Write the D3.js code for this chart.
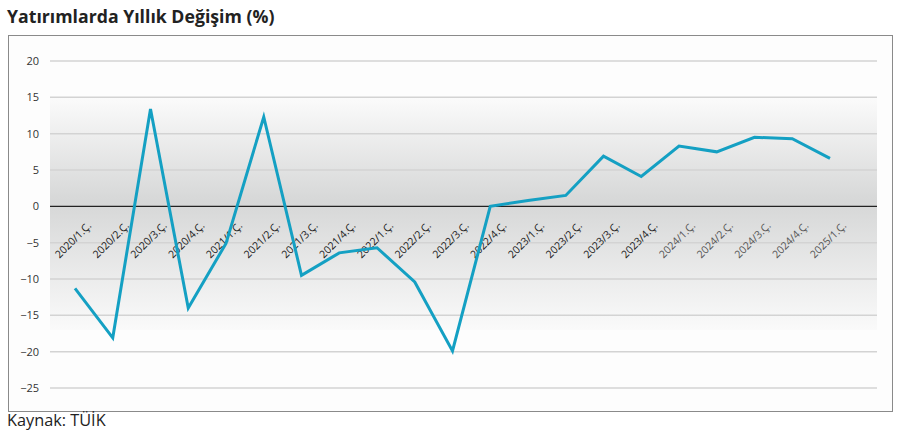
<!DOCTYPE html>
<html><head><meta charset="utf-8">
<script src="https://cdn.jsdelivr.net/npm/d3@7"></script>
<style>body{margin:0;background:#fff}svg{display:block}</style>
</head><body>
<svg id="c" width="901" height="436"></svg>
<script>
const categories = ["2020/1.Ç.","2020/2.Ç.","2020/3.Ç.","2020/4.Ç.","2021/1.Ç.","2021/2.Ç.","2021/3.Ç.","2021/4.Ç.","2022/1.Ç.","2022/2.Ç.","2022/3.Ç.","2022/4.Ç.","2023/1.Ç.","2023/2.Ç.","2023/3.Ç.","2023/4.Ç.","2024/1.Ç.","2024/2.Ç.","2024/3.Ç.","2024/4.Ç.","2025/1.Ç."];
const values = [-11.3,-18.1,13.4,-14.0,-5.1,12.3,-9.5,-6.4,-5.7,-10.4,-19.9,0.0,0.8,1.5,6.9,4.1,8.3,7.5,9.5,9.3,6.6];
const yTicks = [20,15,10,5,0,-5,-10,-15,-20,-25];
const title = "Yatırımlarda Yıllık Değişim (%)";
const source = "Kaynak: TÜİK";

const svg = d3.select("#c");
const defs = svg.append("defs");
const g1 = defs.append("linearGradient").attr("id","bg").attr("x1",0).attr("y1",0).attr("x2",0).attr("y2",1);
g1.append("stop").attr("offset","0").attr("stop-color","#fbfbfb");
g1.append("stop").attr("offset","0.45").attr("stop-color","#d6d7d7");
g1.append("stop").attr("offset","1").attr("stop-color","#fafafa");

// frame
svg.append("rect").attr("x",8.5).attr("y",35.5).attr("width",884).attr("height",376)
  .attr("fill","#fdfdfd").attr("stroke","#8a8a8a").attr("stroke-width",1);

const x = d3.scalePoint().domain(categories).range([75,830]);
const y = d3.scaleLinear().domain([-25,20]).range([388,61]);
const plotL = 50, plotR = 877;

svg.append("rect").attr("x",plotL).attr("y",y(15)).attr("width",plotR-plotL).attr("height",y(-17)-y(15))
  .attr("fill","url(#bg)");

// grid
svg.append("g").selectAll("line").data(yTicks.filter(d=>d!==0)).join("line")
  .attr("x1",plotL).attr("x2",plotR).attr("y1",d=>y(d)).attr("y2",d=>y(d))
  .attr("stroke","#d3d3d3").attr("stroke-width",1.5);

// y axis labels
const ya = svg.append("g").attr("transform",`translate(${plotL},0)`)
  .call(d3.axisLeft(y).tickValues(yTicks).tickSize(0).tickPadding(11));
ya.select(".domain").remove();
ya.selectAll("text").attr("font-family","'Open Sans', sans-serif").attr("font-size",11).attr("fill","#333");

// zero line
svg.append("line").attr("x1",plotL).attr("x2",plotR).attr("y1",y(0)).attr("y2",y(0))
  .attr("stroke","#222").attr("stroke-width",1.2);

// x labels
svg.append("g").selectAll("text").data(categories).join("text")
  .attr("transform",d=>`translate(${x(d)+17},${y(0)+20}) rotate(-45)`)
  .attr("text-anchor","end")
  .attr("font-family","'Open Sans', sans-serif").attr("font-size",10.5)
  .attr("fill",(d,i)=> i>=16 ? "#555" : "#1a1a1a")
  .text(d=>d);

// line
svg.append("path").datum(values)
  .attr("d",d3.line().x((d,i)=>x(categories[i])).y(d=>y(d)))
  .attr("fill","none").attr("stroke","#14a0c3").attr("stroke-width",3).attr("stroke-linejoin","miter");

// title
svg.append("text").attr("x",7).attr("y",23).text(title)
  .attr("font-family","'Open Sans', sans-serif").attr("font-weight","bold").attr("font-size",17.7).attr("fill","#222");
svg.append("text").attr("x",7).attr("y",426).text(source)
  .attr("font-family","'Open Sans', sans-serif").attr("font-size",16.3).attr("fill","#222");
</script>
</body></html>
